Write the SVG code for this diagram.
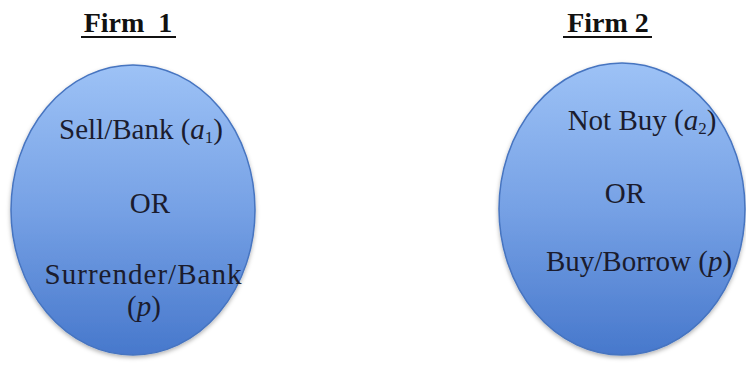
<svg xmlns="http://www.w3.org/2000/svg" width="746" height="381" viewBox="0 0 746 381">
<defs>
<linearGradient id="g" x1="0" y1="0" x2="0" y2="1">
<stop offset="0" stop-color="#9dc2f6"/>
<stop offset="0.5" stop-color="#76a1e5"/>
<stop offset="1" stop-color="#4778cc"/>
</linearGradient>
<filter id="sh" x="-10%" y="-10%" width="120%" height="120%">
<feDropShadow dx="0" dy="2" stdDeviation="2" flood-color="#000" flood-opacity="0.3"/>
</filter>
</defs>
<style>
.title{font-family:"Liberation Serif",serif;font-weight:bold;font-size:28px;fill:#111;text-anchor:middle}
.ul{stroke:#111;stroke-width:2}
.t{font-family:"Liberation Serif",serif;font-size:29px;fill:#1b1c2e;text-anchor:middle}
.oval{fill:url(#g);stroke:#4674c0;stroke-width:1.5;filter:url(#sh)}
</style>
<rect width="746" height="381" fill="#fff"/>
<g id="firm1">
<text class="title" x="128" y="32" xml:space="preserve">Firm  1</text>
<line class="ul" x1="81" y1="37" x2="176" y2="37"/>
<ellipse class="oval" cx="133" cy="210" rx="122" ry="145"/>
<text class="t" x="141" y="139">Sell/Bank (<tspan font-style="italic">a</tspan><tspan font-size="17" dy="4">1</tspan><tspan dy="-4">)</tspan></text>
<text class="t" x="150" y="213">OR</text>
<text class="t" x="143" y="284" textLength="197" lengthAdjust="spacing">Surrender/Bank</text>
<text class="t" x="144" y="316">(<tspan font-style="italic">p</tspan>)</text>
</g>
<g id="firm2">
<text class="title" x="608" y="32">Firm 2</text>
<line class="ul" x1="563" y1="37" x2="652" y2="37"/>
<ellipse class="oval" cx="622" cy="209" rx="123" ry="146"/>
<text class="t" x="642" y="130">Not Buy (<tspan font-style="italic">a</tspan><tspan font-size="17" dy="4">2</tspan><tspan dy="-4">)</tspan></text>
<text class="t" x="625" y="203">OR</text>
<text class="t" x="639" y="271">Buy/Borrow (<tspan font-style="italic">p</tspan>)</text>
</g>
<g id="connectors"/>
</svg>
